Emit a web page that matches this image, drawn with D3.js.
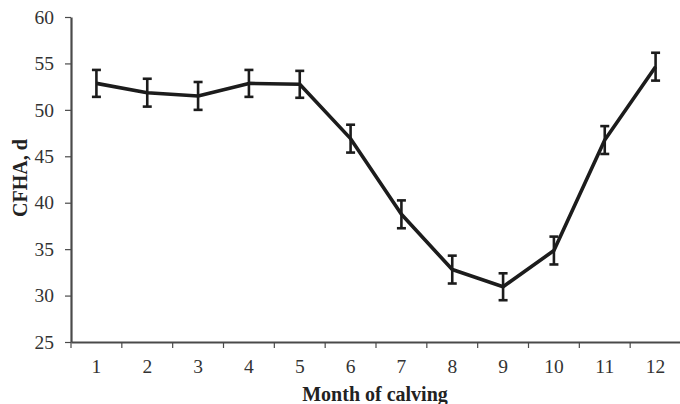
<!DOCTYPE html>
<html><head><meta charset="utf-8">
<script src="https://cdn.jsdelivr.net/npm/d3@7"></script>
<style>body{margin:0;background:#fff}svg{display:block}</style>
</head><body>
<svg id="c" width="680" height="404"></svg>
<script>
const months = ["1","2","3","4","5","6","7","8","9","10","11","12"];
const cfha = [52.85, 51.85, 51.5, 52.85, 52.75, 46.9, 38.75, 32.8, 30.95, 34.85, 46.75, 54.65];
const se = [1.45, 1.5, 1.5, 1.45, 1.45, 1.5, 1.5, 1.5, 1.45, 1.5, 1.5, 1.5];
const yTicks = [25, 30, 35, 40, 45, 50, 55, 60];

const svg = d3.select("#c");
const mLeft = 71, mRight = 681, mTop = 17, mBottom = 342;
const x = d3.scaleBand().domain(months).range([mLeft, mRight]);
const y = d3.scaleLinear().domain([25, 60]).range([mBottom, mTop]);
const font = "'Liberation Serif','Times New Roman',serif";
const axisCol = "#4a4a4a";

// y axis
const ya = svg.append("g").attr("transform", `translate(${mLeft},0)`)
  .call(d3.axisLeft(y).tickValues(yTicks).tickSize(6).tickPadding(11).tickSizeOuter(0));
ya.select(".domain").attr("stroke", axisCol).attr("stroke-width", 2.2);
ya.selectAll(".tick line").attr("stroke", axisCol).attr("stroke-width", 1.2);
ya.selectAll("text").attr("font-family", font).attr("font-size", 19.5).attr("fill", "#333");

// x axis with ticks at band boundaries
const xa = svg.append("g").attr("transform", `translate(0,${mBottom})`)
  .call(d3.axisBottom(x).tickSize(0).tickPadding(17).tickSizeOuter(0));
xa.select(".domain").attr("stroke", axisCol).attr("stroke-width", 2.2);
xa.selectAll("text").attr("font-family", font).attr("font-size", 19.5).attr("fill", "#333");
xa.selectAll(".bnd").data(months.slice(1)).enter().append("line")
  .attr("x1", d => x(d)).attr("x2", d => x(d)).attr("y1", 0).attr("y2", 6)
  .attr("stroke", axisCol).attr("stroke-width", 1.2);
xa.append("line").attr("x1", mLeft).attr("x2", mLeft).attr("y1", 0).attr("y2", 6)
  .attr("stroke", axisCol).attr("stroke-width", 1.2);

const cx = d => x(d) + x.bandwidth() / 2;

// line
svg.append("path")
  .datum(months.map((m, i) => [cx(m), y(cfha[i])]))
  .attr("d", d3.line())
  .attr("fill", "none").attr("stroke", "#1c1c1c").attr("stroke-width", 3.6)
  .attr("stroke-linejoin", "round");

// error bars
const eb = svg.append("g").attr("stroke", "#1c1c1c");
months.forEach((m, i) => {
  const xx = cx(m), hi = y(cfha[i] + se[i]), lo = y(cfha[i] - se[i]);
  eb.append("line").attr("x1", xx).attr("x2", xx).attr("y1", hi).attr("y2", lo).attr("stroke-width", 2.6);
  eb.append("line").attr("x1", xx - 4.5).attr("x2", xx + 4.5).attr("y1", hi).attr("y2", hi).attr("stroke-width", 2.6);
  eb.append("line").attr("x1", xx - 4.5).attr("x2", xx + 4.5).attr("y1", lo).attr("y2", lo).attr("stroke-width", 2.6);
});

// titles
svg.append("text").attr("x", 375).attr("y", 401)
  .attr("text-anchor", "middle").attr("font-family", font).attr("font-weight", "bold")
  .attr("font-size", 20).attr("fill", "#222").text("Month of calving");
svg.append("text").attr("transform", `translate(27,178) rotate(-90)`)
  .attr("text-anchor", "middle").attr("font-family", font).attr("font-weight", "bold")
  .attr("font-size", 20).attr("fill", "#222").text("CFHA, d");
</script>
</body></html>
